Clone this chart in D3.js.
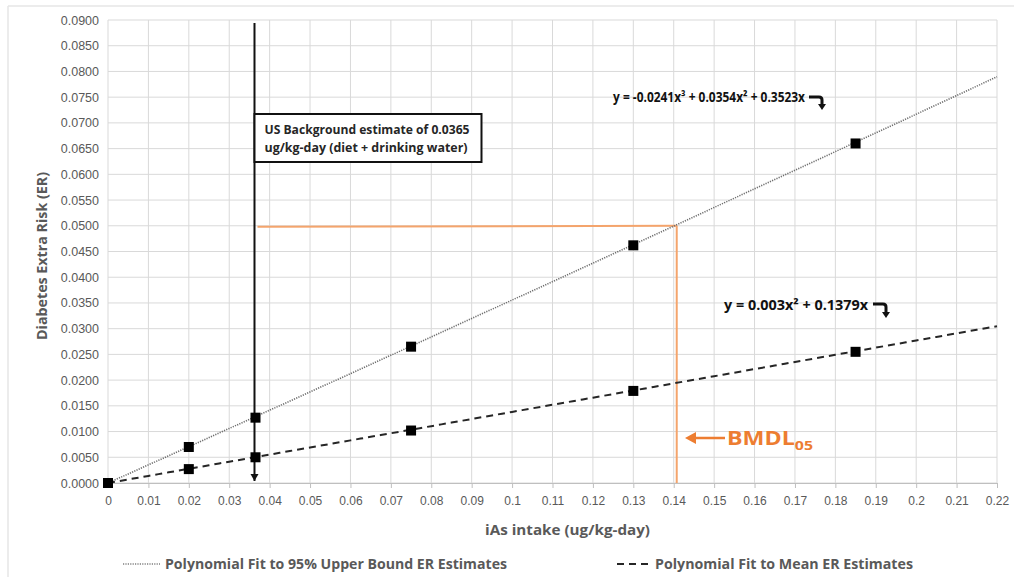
<!DOCTYPE html>
<html>
<head>
<meta charset="utf-8">
<script src="https://cdn.jsdelivr.net/npm/d3@7"></script>
<style>
  html, body { margin: 0; padding: 0; background: #fff; }
  svg { display: block; font-family: "Open Sans", "Liberation Sans", sans-serif; }
</style>
</head>
<body>
<div id="chart"></div>
<script>
// データ
const doses = [0, 0.02, 0.0365, 0.075, 0.13, 0.185];
const upperER = [0, 0.0070, 0.0127, 0.0265, 0.0462, 0.0660];
const meanER = [0, 0.0027, 0.0050, 0.0102, 0.0179, 0.0255];
// 近似式の係数 [x, x^2, x^3]
const upperCoef = [0.3523, 0.0354, -0.0241];
const meanCoef = [0.1379, 0.003, 0];
const xTicks = d3.range(0, 23).map(i => +(i * 0.01).toFixed(2));
const yTicks = d3.range(0, 19).map(i => +(i * 0.005).toFixed(3));
const background = 0.0365;
const bmdl = 0.14;
const bmr = 0.05;

const W = 1014, H = 577;
const m = { left: 108, right: 17, top: 20, bottom: 94 };

const svg = d3.select('#chart').append('svg')
  .attr('width', W).attr('height', H);

// 外枠（上と左のみ見えている）
svg.append('line').attr('x1', 8).attr('x2', W).attr('y1', 6).attr('y2', 6)
  .attr('stroke', '#e6e6e6').attr('stroke-width', 1.5);
svg.append('line').attr('x1', 8).attr('x2', 8).attr('y1', 6).attr('y2', H)
  .attr('stroke', '#e6e6e6').attr('stroke-width', 1.5);

const x = d3.scaleLinear().domain([0, 0.22]).range([m.left, W - m.right]);
const y = d3.scaleLinear().domain([0, 0.09]).range([H - m.bottom, m.top]);

// テキストを指定幅に合わせる
function fit(sel, len) {
  return sel.attr('textLength', len).attr('lengthAdjust', 'spacingAndGlyphs');
}

// グリッド
const grid = svg.append('g');
grid.selectAll('.vg').data(xTicks).enter().append('line')
  .attr('x1', d => x(d)).attr('x2', d => x(d))
  .attr('y1', y(0.09)).attr('y2', y(0))
  .attr('stroke', '#d9d9d9').attr('stroke-width', 1);
grid.selectAll('.hg').data(yTicks).enter().append('line')
  .attr('x1', x(0)).attr('x2', x(0.22))
  .attr('y1', d => y(d)).attr('y2', d => y(d))
  .attr('stroke', '#d9d9d9').attr('stroke-width', 1);

// 軸
const xAxis = svg.append('g')
  .attr('transform', `translate(0,${y(0)})`)
  .call(d3.axisBottom(x).tickValues(xTicks).tickSize(5).tickFormat(d => String(d)));
xAxis.select('.domain').attr('stroke', '#bfbfbf');
xAxis.selectAll('.tick line').attr('stroke', '#bfbfbf');
xAxis.selectAll('text').attr('fill', '#595959').style('font-size', '12px').attr('dy', '1.15em');

const yAxis = svg.append('g')
  .attr('transform', `translate(${x(0)},0)`)
  .call(d3.axisLeft(y).tickValues(yTicks).tickSize(0).tickPadding(9).tickFormat(d3.format('.4f')));
yAxis.select('.domain').remove();
yAxis.selectAll('text').attr('fill', '#595959').style('font-size', '12.5px');

// 軸タイトル
fit(svg.append('text')
  .attr('x', 485).attr('y', 535)
  .attr('fill', '#595959')
  .style('font-size', '14.5px').style('font-weight', 'bold')
  .text('iAs intake (ug/kg-day)'), 165);
fit(svg.append('text')
  .attr('transform', `translate(47,340) rotate(-90)`)
  .attr('fill', '#595959')
  .style('font-size', '14.5px').style('font-weight', 'bold')
  .text('Diabetes Extra Risk (ER)'), 168);

// オレンジのBMDL線
const orangeLine = '#f4a46c';
svg.append('line')
  .attr('x1', x(background) + 2).attr('x2', x(bmdl) + 3)
  .attr('y1', y(bmr) + 1).attr('y2', y(bmr))
  .attr('stroke', orangeLine).attr('stroke-width', 2);
svg.append('line')
  .attr('x1', x(bmdl) + 3).attr('x2', x(bmdl) + 3)
  .attr('y1', y(bmr)).attr('y2', y(0))
  .attr('stroke', orangeLine).attr('stroke-width', 2);

// 近似曲線
function poly(c, v) { return c[0] * v + c[1] * v * v + c[2] * v * v * v; }
const fitX = d3.range(0, 0.2201, 0.0025);
const lineGen = c => d3.line().x(d => x(d)).y(d => y(poly(c, d)));

svg.append('path').datum(fitX)
  .attr('d', lineGen(upperCoef))
  .attr('fill', 'none').attr('stroke', '#6f6f6f')
  .attr('stroke-width', 1.6).attr('stroke-dasharray', '1.2,1.2');
svg.append('path').datum(fitX)
  .attr('d', lineGen(meanCoef))
  .attr('fill', 'none').attr('stroke', '#262626')
  .attr('stroke-width', 2).attr('stroke-dasharray', '7,5');

// 背景推定の縦線（矢印付き）
svg.append('line')
  .attr('x1', x(background) - 1).attr('x2', x(background) - 1)
  .attr('y1', 23).attr('y2', y(0) - 2)
  .attr('stroke', '#111').attr('stroke-width', 2);
svg.append('path')
  .attr('d', `M${x(background) - 5},${y(0) - 9} L${x(background) + 3},${y(0) - 9} L${x(background) - 1},${y(0) - 2} Z`)
  .attr('fill', '#111');

// 注記ボックス
const box = svg.append('g').attr('transform', `translate(${x(background) - 1},114)`);
box.append('rect').attr('width', 227).attr('height', 48)
  .attr('fill', '#fff').attr('stroke', '#111').attr('stroke-width', 2);
fit(box.append('text').attr('x', 10).attr('y', 20)
  .attr('fill', '#262626').style('font-size', '12px').style('font-weight', 'bold')
  .text('US Background estimate of 0.0365'), 205);
fit(box.append('text').attr('x', 10).attr('y', 38)
  .attr('fill', '#262626').style('font-size', '12px').style('font-weight', 'bold')
  .text('ug/kg-day (diet + drinking water)'), 203);

// データ点
const markers = svg.append('g');
[upperER, meanER].forEach(series => {
  markers.selectAll(null).data(doses.map((d, i) => ({ d: d, v: series[i] }))).enter()
    .append('rect')
    .attr('x', p => x(p.d) - 5).attr('y', p => y(p.v) - 5)
    .attr('width', 10).attr('height', 10)
    .attr('fill', '#000');
});

// 近似式のラベル
function eqLabel(px, py, str, len) {
  return fit(svg.append('text').attr('x', px).attr('y', py)
    .attr('fill', '#111').style('font-size', '13.5px').style('font-weight', 'bold')
    .text(str), len);
}
eqLabel(613, 102, 'y = -0.0241x³ + 0.0354x² + 0.3523x', 192);
eqLabel(724, 310, 'y = 0.003x² + 0.1379x', 144);

// 曲がった矢印
function bentArrow(x0, yy, x1, y1) {
  svg.append('path')
    .attr('d', `M${x0},${yy} L${x1 - 3},${yy} Q${x1},${yy} ${x1},${yy + 3} L${x1},${y1 - 5}`)
    .attr('fill', 'none').attr('stroke', '#111').attr('stroke-width', 3);
  svg.append('path')
    .attr('d', `M${x1 - 4},${y1 - 6} L${x1 + 4},${y1 - 6} L${x1},${y1} Z`)
    .attr('fill', '#111');
}
bentArrow(809, 97, 822, 110);
bentArrow(873, 304, 886, 318);

// BMDL 注記
const orangeText = '#ed7d31';
svg.append('line').attr('x1', 725).attr('x2', 692).attr('y1', 438).attr('y2', 438)
  .attr('stroke', orangeText).attr('stroke-width', 2.5);
svg.append('path').attr('d', 'M685,438 L696,432 L696,444 Z').attr('fill', orangeText);
const bm = svg.append('text').attr('x', 727).attr('y', 445)
  .attr('fill', orangeText).style('font-size', '19px').style('font-weight', 'bold');
bm.append('tspan').text('BMDL');
bm.append('tspan').attr('dy', 5).style('font-size', '13px').text('05');
fit(bm, 86);

// 凡例
const lg = svg.append('g');
lg.append('line').attr('x1', 123).attr('x2', 160).attr('y1', 564).attr('y2', 564)
  .attr('stroke', '#7f7f7f').attr('stroke-width', 1.6).attr('stroke-dasharray', '1.2,1.2');
fit(lg.append('text').attr('x', 165).attr('y', 569).attr('fill', '#595959')
  .style('font-size', '13.5px').style('font-weight', 'bold')
  .text('Polynomial Fit to 95% Upper Bound ER Estimates'), 342);
lg.append('line').attr('x1', 617).attr('x2', 652).attr('y1', 564).attr('y2', 564)
  .attr('stroke', '#262626').attr('stroke-width', 2).attr('stroke-dasharray', '7,5');
fit(lg.append('text').attr('x', 655).attr('y', 569).attr('fill', '#595959')
  .style('font-size', '13.5px').style('font-weight', 'bold')
  .text('Polynomial Fit to Mean ER Estimates'), 258);
</script>
</body>
</html>
